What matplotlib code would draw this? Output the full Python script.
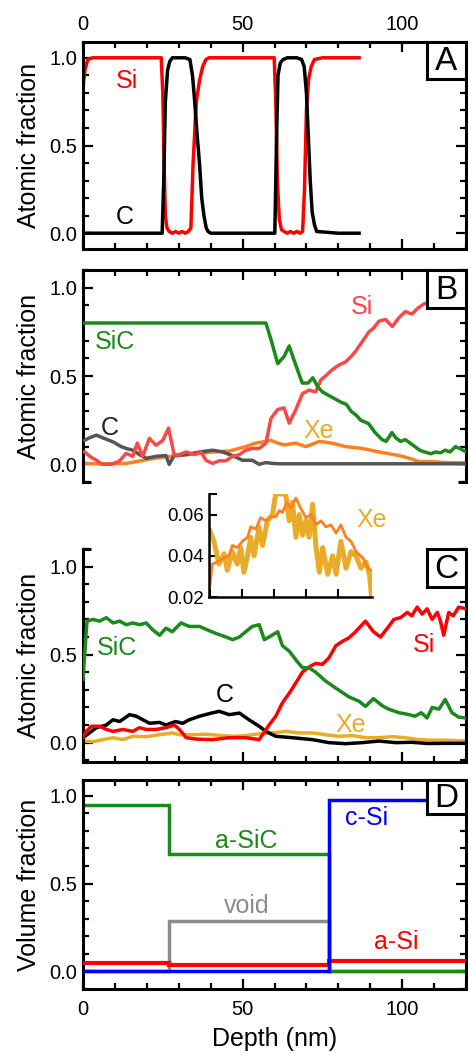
import matplotlib
matplotlib.use("Agg")
import matplotlib.pyplot as plt
from matplotlib.ticker import MultipleLocator, FixedLocator

plt.rcParams['font.family'] = ['Liberation Sans', 'DejaVu Sans']

# ---------------- Panel A ----------------
a_si_x = [0, 0.6, 1.5, 3, 10, 20, 24.5, 25.0, 25.4, 25.8, 26.3, 27, 28, 29, 30, 31, 32, 33, 33.8,
          34.5, 35.5, 36.5, 37.5, 38.5, 39.5, 50, 59.9, 60.4, 60.9, 61.5, 62.2, 63, 64, 65, 66, 67,
          68, 68.8, 69.4, 70, 70.7, 71.5, 72.5, 75, 86.5]
a_si_y = [0.83, 0.93, 0.99, 1.0, 1.0, 1.0, 1.0, 0.8, 0.4, 0.1, 0.03, 0.01, 0.0, 0.01, 0.0, 0.01, 0.0,
          0.01, 0.03, 0.4, 0.75, 0.87, 0.95, 0.99, 1.0, 1.0, 1.0, 0.75, 0.3, 0.08, 0.02, 0.01, 0.0,
          0.01, 0.0, 0.01, 0.0, 0.01, 0.25, 0.7, 0.88, 0.95, 0.99, 1.0, 1.0]
a_c_x = [0, 24.8, 25.3, 25.8, 26.5, 27.2, 28, 29, 32, 33.5, 34.3, 35, 35.8, 36.5, 37.2, 37.9, 38.6,
         39.2, 40, 50, 60.1, 60.6, 61.1, 61.8, 62.7, 64, 67, 68.5, 69.3, 70, 70.6, 71.2, 71.8, 72.5,
         73.2, 80, 86.5]
a_c_y = [0, 0, 0.3, 0.75, 0.93, 0.98, 1.0, 1.0, 1.0, 0.99, 0.9, 0.75, 0.55, 0.4, 0.2, 0.1, 0.03,
         0.01, 0, 0, 0, 0.5, 0.9, 0.97, 0.99, 1.0, 1.0, 0.99, 0.95, 0.8, 0.55, 0.3, 0.12, 0.05, 0.01,
         0, 0]

# ---------------- Panel B ----------------
b_sic_x = [0, 57.3, 59, 61, 63, 64.6, 66.5, 68.7, 70.5, 72, 73.5, 75, 77, 79, 81, 82.5, 84, 85.5,
           87, 89.5, 91.5, 93.7, 95, 96.8, 98, 99.5, 101, 102.5, 104, 105.5, 107, 109, 110.5, 112,
           113.5, 115, 116.7, 118, 120]
b_sic_y = [0.80, 0.80, 0.70, 0.57, 0.61, 0.67, 0.57, 0.46, 0.46, 0.49, 0.44, 0.41, 0.39, 0.37, 0.35,
           0.34, 0.30, 0.28, 0.25, 0.23, 0.18, 0.14, 0.13, 0.18, 0.15, 0.13, 0.14, 0.12, 0.10, 0.08,
           0.07, 0.06, 0.07, 0.065, 0.08, 0.07, 0.10, 0.09, 0.07]
b_si_x = [0.5, 2.5, 4.2, 6, 9, 11.5, 13.5, 15.6, 17, 18.7, 20.8, 22.9, 25, 26.8, 28.6, 30.2, 32.3,
          34.9, 37, 38.5, 40.6, 42.7, 44.8, 46.8, 49, 51, 53, 55.2, 57.3, 58.9, 61, 63, 64.6, 66.7,
          68.75, 70.8, 72.9, 74.5, 76, 78, 80, 82.3, 84, 85.4, 87.5, 89.6, 91, 92.7, 94.8, 96.9, 99,
          101, 103, 105, 107, 110, 113, 116, 120]
b_si_y = [0.07, 0.04, 0.023, 0.0, 0.0, 0.02, 0.062, 0.045, 0.12, 0.045, 0.147, 0.108, 0.136, 0.205,
          0.05, 0.055, 0.07, 0.055, 0.07, 0.023, 0.005, 0.02, 0.02, 0.045, 0.055, 0.08, 0.09, 0.09,
          0.12, 0.26, 0.31, 0.32, 0.233, 0.31, 0.40, 0.42, 0.41, 0.477, 0.50, 0.534, 0.56, 0.58,
          0.61, 0.64, 0.695, 0.75, 0.77, 0.81, 0.82, 0.78, 0.83, 0.865, 0.85, 0.885, 0.91, 0.92,
          0.94, 0.95, 0.96]
b_c_x = [0.5, 2, 4.2, 6.2, 9.4, 12, 13.5, 15.6, 17.7, 19.8, 22.9, 26, 27, 28.6, 32.3, 36.5, 40.6,
         43.7, 46.8, 50, 53, 55.2, 57.3, 59.4, 62, 120]
b_c_y = [0.136, 0.15, 0.165, 0.15, 0.127, 0.10, 0.09, 0.08, 0.055, 0.034, 0.045, 0.05, 0.0, 0.05,
         0.055, 0.07, 0.08, 0.07, 0.05, 0.023, 0.023, 0.0, 0.01, 0.005, 0.003, 0.003]
b_xe_x = [0.5, 6, 13.5, 16.6, 20.8, 25, 30.2, 35.4, 40.6, 45.8, 51, 54, 57.3, 58.9, 61, 63, 66.7,
          69.8, 72, 74, 78, 82.3, 87.5, 92.7, 99, 103, 105, 109, 113.5, 120]
b_xe_y = [0.005, 0.003, 0.005, 0.015, 0.03, 0.04, 0.05, 0.06, 0.07, 0.075, 0.10, 0.12, 0.13, 0.136,
          0.12, 0.11, 0.12, 0.10, 0.115, 0.13, 0.12, 0.10, 0.09, 0.07, 0.05, 0.03, 0.016, 0.016,
          0.01, 0.008]

# ---------------- Panel C ----------------
c_sic_x = [0, 1.25, 3.1, 5.2, 7.3, 9.4, 11.5, 13.5, 15.6, 17.7, 19.8, 21.9, 24, 26, 28, 30.7, 33.3,
           36.5, 39, 41.7, 44.8, 46.9, 49, 51, 53, 55.2, 56.8, 58.3, 61, 62.5, 64.6, 66.7, 68.75,
           70.8, 72.9, 76, 79.2, 83.3, 86.5, 88.5, 91, 93.75, 95.8, 99, 102, 104, 106, 107.8, 109.4,
           111.5, 113.5, 115.6, 117.7, 120]
c_sic_y = [0.36, 0.69, 0.70, 0.69, 0.71, 0.68, 0.69, 0.67, 0.68, 0.67, 0.68, 0.64, 0.61, 0.65, 0.63,
           0.68, 0.66, 0.66, 0.64, 0.62, 0.60, 0.585, 0.60, 0.63, 0.66, 0.67, 0.585, 0.60, 0.63,
           0.55, 0.52, 0.47, 0.425, 0.425, 0.40, 0.35, 0.31, 0.26, 0.235, 0.206, 0.25, 0.21, 0.19,
           0.17, 0.16, 0.15, 0.17, 0.14, 0.20, 0.19, 0.245, 0.17, 0.145, 0.14]
c_si_x = [0, 1, 2.6, 5.2, 7.3, 9.4, 12.5, 15.6, 17.7, 19.8, 22.9, 26, 28.6, 30.2, 32.3, 35.4, 40.6,
          45.8, 51, 55.2, 56.8, 58.3, 60.4, 62.5, 64.6, 66.7, 68.75, 70.8, 72.9, 75, 77, 79.2, 81.25,
          83.3, 85.4, 88.5, 91, 93.2, 95.8, 97.4, 99.5, 101.6, 103, 104.7, 106.25, 107.8, 109.4, 111,
          112, 113, 114.6, 116, 117.7, 120]
c_si_y = [0.03, 0.064, 0.093, 0.093, 0.075, 0.064, 0.075, 0.064, 0.085, 0.075, 0.075, 0.085, 0.10,
          0.075, 0.028, 0.02, 0.017, 0.028, 0.028, 0.017, 0.06, 0.10, 0.15, 0.227, 0.28, 0.34, 0.40,
          0.43, 0.45, 0.445, 0.48, 0.55, 0.575, 0.595, 0.63, 0.69, 0.63, 0.60, 0.66, 0.70, 0.71,
          0.74, 0.72, 0.77, 0.73, 0.76, 0.70, 0.74, 0.69, 0.61, 0.74, 0.72, 0.77, 0.76]
c_c_x = [0, 2, 4.2, 7.3, 9.4, 11.5, 14.6, 16.7, 18.75, 20.8, 24, 26, 29, 31.25, 33.3, 36.5, 39.6,
         42.7, 45.8, 49, 52, 55.2, 57.3, 60.4, 65.6, 71.9, 77, 82.3, 87.5, 92.7, 98, 103, 108, 113.5,
         120]
c_c_y = [0.028, 0.055, 0.085, 0.10, 0.13, 0.12, 0.159, 0.15, 0.13, 0.11, 0.115, 0.10, 0.12, 0.11,
         0.13, 0.15, 0.165, 0.178, 0.159, 0.168, 0.13, 0.093, 0.064, 0.036, 0.028, 0.017, 0.0,
         -0.006, 0.0, 0.009, 0.0, 0.002, -0.005, -0.004, -0.004]
c_xe_x = [0, 3.1, 6.25, 9.4, 12.5, 15.6, 19.8, 24, 28, 30.2, 34.4, 38.5, 42.7, 46.9, 51, 55.2, 59.4,
          63.5, 67.7, 71.9, 76, 80.2, 84.4, 88.5, 92.7, 96.9, 101, 105, 109.4, 113.5, 118.75, 120]
c_xe_y = [0.01, 0.005, 0.017, 0.028, 0.017, 0.036, 0.034, 0.045, 0.055, 0.045, 0.045, 0.048, 0.041,
          0.036, 0.040, 0.05, 0.055, 0.064, 0.055, 0.055, 0.045, 0.036, 0.040, 0.028, 0.028, 0.034,
          0.028, 0.017, 0.014, 0.014, 0.01, 0.01]

# inset (Xe)
ins_gold_x = [0, 1.25, 2.8, 4.4, 5.4, 7.0, 8.5, 9.6, 10.6, 11.7, 12.7, 13.75, 15.3, 16.4, 17.9, 19.5,
              20.5, 22.1, 23.6, 24.7, 25.7, 26.8, 27.8, 28.85, 29.9, 30.9, 32.0, 33.0, 34.1, 35.1,
              36.7, 38.2, 39.3, 40.8, 42.4, 43.96, 45.5, 47.1, 48.6, 49.7, 50.4]
ins_gold_y = [0.052, 0.047, 0.036, 0.041, 0.033, 0.042, 0.036, 0.044, 0.032, 0.040, 0.049, 0.040,
              0.054, 0.045, 0.057, 0.060, 0.070, 0.070, 0.070, 0.057, 0.066, 0.049, 0.060, 0.050,
              0.057, 0.049, 0.065, 0.045, 0.032, 0.044, 0.031, 0.040, 0.031, 0.047, 0.034, 0.042,
              0.040, 0.034, 0.037, 0.031, 0.020]
ins_orange_x = [0, 0.73, 2.3, 4.4, 5.9, 7.0, 8.5, 10.1, 11.7, 12.7, 14.3, 15.8, 17.4, 18.96, 20.5,
                21.6, 22.6, 23.96, 25.2, 26.8, 28.3, 29.9, 31.5, 33.0, 34.6, 36.1, 37.7, 39.3, 40.8,
                42.4, 43.96, 45.5, 47.6, 49.2, 50.2]
ins_orange_y = [0.026, 0.036, 0.037, 0.039, 0.040, 0.045, 0.044, 0.047, 0.049, 0.054, 0.053, 0.0585,
                0.057, 0.059, 0.059, 0.062, 0.061, 0.066, 0.063, 0.068, 0.063, 0.0585, 0.060, 0.055,
                0.057, 0.054, 0.055, 0.051, 0.055, 0.049, 0.047, 0.042, 0.039, 0.034, 0.033]

# ---------------- Panel D (step profiles) ----------------
d_edges = [0, 27, 77, 120]
d_asic = [0.95, 0.67, 0.0]
d_void = [0.0, 0.29, 0.0]
d_asi = [0.047, 0.038, 0.062]
d_csi = [0.0, 0.0, 0.975]

RED = '#ff0000'
RED_B = '#f84848'
GREEN = '#1a8a1a'
BLUE = '#0000ff'
GRAY = '#8c8c8c'
DGRAY = '#555555'
ORANGE = '#ff8020'
GOLD = '#e8ac28'

W, H = 468, 1055
fig = plt.figure(figsize=(W / 100, H / 100), dpi=100)


def rect(l, t, r, b):
    return [l / W, 1 - b / H, (r - l) / W, (b - t) / H]


SPW = 2.2
LW = 2.5
TICK_FS = 14.5
LAB_FS = 18


def style(ax, ylim, top_labels=False, bottom_labels=False):
    ax.set_xlim(0, 120)
    ax.set_ylim(*ylim)
    for s in ax.spines.values():
        s.set_linewidth(SPW)
    ax.xaxis.set_major_locator(FixedLocator([0, 50, 100]))
    ax.xaxis.set_minor_locator(MultipleLocator(10))
    ax.yaxis.set_major_locator(FixedLocator([0.0, 0.5, 1.0]))
    ax.yaxis.set_minor_locator(MultipleLocator(0.1))
    ax.tick_params(which='both', direction='in', top=True, right=True, bottom=True, left=True,
                   labelsize=TICK_FS, width=1.6, pad=4)
    ax.tick_params(axis='x', which='both', pad=8)
    ax.tick_params(which='major', length=7)
    ax.tick_params(which='minor', length=4.5)
    ax.tick_params(axis='x', labeltop=top_labels, labelbottom=bottom_labels)
    ax.set_yticklabels(['0.0', '0.5', '1.0'])


def panel_box(letter, t, b):
    bx = fig.add_axes(rect(427, t, 466, b))
    bx.set_xticks([]); bx.set_yticks([])
    for s in bx.spines.values():
        s.set_linewidth(SPW)
    bx.set_facecolor('white')
    bx.text(0.5, 0.47, letter, ha='center', va='center', fontsize=24, transform=bx.transAxes)
    return bx


# Panel A
axA = fig.add_axes(rect(83, 42, 466, 249))
style(axA, (-0.09, 1.09), top_labels=True)
axA.tick_params(axis='x', which='both', pad=6)
axA.set_xticklabels(['0', '50', '100'])
axA.plot(a_si_x, a_si_y, color=RED, lw=LW)
axA.plot(a_c_x, a_c_y, color='black', lw=LW)
axA.text(13.7, 0.87, 'Si', color=RED, fontsize=LAB_FS, ha='center', va='center')
axA.text(13, 0.09, 'C', color='black', fontsize=LAB_FS, ha='center', va='center')
axA.set_ylabel('Atomic fraction', fontsize=LAB_FS, labelpad=6)
panel_box('A', 42, 79)

# Panel B
axB = fig.add_axes(rect(83, 270, 466, 482))
style(axB, (-0.10, 1.10))
axB.spines['bottom'].set_visible(False)
axB.tick_params(axis='x', which='both', bottom=False)
axB.plot(b_xe_x, b_xe_y, color=ORANGE, lw=LW, zorder=2)
axB.plot(b_c_x, b_c_y, color=DGRAY, lw=LW, zorder=3)
axB.plot(b_si_x, b_si_y, color=RED_B, lw=LW, zorder=3)
axB.plot(b_sic_x, b_sic_y, color=GREEN, lw=LW, zorder=4)
axB.text(9.9, 0.69, 'SiC', color=GREEN, fontsize=LAB_FS, ha='center', va='center')
axB.text(87.4, 0.89, 'Si', color=RED_B, fontsize=LAB_FS, ha='center', va='center')
axB.text(8.3, 0.205, 'C', color='#222222', fontsize=LAB_FS, ha='center', va='center')
axB.text(74, 0.19, 'Xe', color=GOLD, fontsize=LAB_FS, ha='center', va='center')
axB.set_ylabel('Atomic fraction', fontsize=LAB_FS, labelpad=6)
for xs in ([0, 0.022], [0.978, 1.0]):
    axB.plot(xs, [0, 0], transform=axB.transAxes, color='black', lw=SPW, clip_on=False,
             solid_capstyle='butt', zorder=5)
panel_box('B', 270, 308)

# Panel C
axC = fig.add_axes(rect(83, 549, 466, 762))
style(axC, (-0.11, 1.10))
axC.spines['top'].set_visible(False)
axC.tick_params(axis='x', which='both', top=False)
axC.plot(c_xe_x, c_xe_y, color=GOLD, lw=LW, zorder=2)
axC.plot(c_c_x, c_c_y, color='black', lw=LW, zorder=3)
axC.plot(c_si_x, c_si_y, color=RED, lw=LW, zorder=3)
axC.plot(c_sic_x, c_sic_y, color=GREEN, lw=LW, zorder=4)
axC.text(10.5, 0.54, 'SiC', color=GREEN, fontsize=LAB_FS, ha='center', va='center')
axC.text(44.3, 0.27, 'C', color='black', fontsize=LAB_FS, ha='center', va='center')
axC.text(106.7, 0.557, 'Si', color=RED, fontsize=LAB_FS, ha='center', va='center')
axC.text(84, 0.10, 'Xe', color=GOLD, fontsize=LAB_FS, ha='center', va='center')
axC.set_ylabel('Atomic fraction', fontsize=LAB_FS, labelpad=6)
axC.plot([0, 0.022], [1, 1], transform=axC.transAxes, color='black', lw=SPW, clip_on=False,
         solid_capstyle='butt', zorder=5)
panel_box('C', 549, 587)

# Inset
axI = fig.add_axes(rect(209, 494, 372, 597))
axI.set_xlim(-0.3, 50.5)
axI.set_ylim(0.02, 0.07)
axI.spines['top'].set_visible(False)
axI.spines['right'].set_visible(False)
for s in ('left', 'bottom'):
    axI.spines[s].set_linewidth(1.8)
axI.xaxis.set_major_locator(FixedLocator([0, 10, 20, 30, 40, 50]))
axI.yaxis.set_major_locator(FixedLocator([0.02, 0.04, 0.06, 0.07]))
axI.set_yticklabels(['0.02', '0.04', '0.06', ''])
axI.tick_params(direction='in', labelsize=13.5, width=1.5, length=6, labelbottom=False)
axI.plot(ins_gold_x, ins_gold_y, color=GOLD, lw=3.6)
axI.plot(ins_orange_x, ins_orange_y, color=ORANGE, lw=2.0)
axI.text(50.3, 0.0576, 'Xe', color=GOLD, fontsize=LAB_FS, ha='center', va='center', clip_on=False)

# Panel D
axD = fig.add_axes(rect(83, 780, 466, 989))
style(axD, (-0.10, 1.09), bottom_labels=True)
axD.set_xticklabels(['0', '50', '100'])
axD.stairs(d_void, d_edges, color=GRAY, lw=LW, baseline=None, zorder=1.5)
axD.stairs(d_asic, d_edges, color=GREEN, lw=LW, baseline=None, zorder=2)
axD.stairs(d_asi, d_edges, color=RED, lw=3.0, baseline=None, zorder=3)
axD.stairs(d_csi, d_edges, color=BLUE, lw=LW, baseline=None, zorder=4)
axD.text(51.2, 0.74, 'a-SiC', color=GREEN, fontsize=LAB_FS, ha='center', va='center')
axD.text(51.2, 0.375, 'void', color=GRAY, fontsize=LAB_FS, ha='center', va='center')
axD.text(98.3, 0.165, 'a-Si', color=RED, fontsize=LAB_FS, ha='center', va='center')
axD.text(89, 0.875, 'c-Si', color=BLUE, fontsize=LAB_FS, ha='center', va='center')
axD.set_ylabel('Volume fraction', fontsize=LAB_FS, labelpad=6)
axD.set_xlabel('Depth (nm)', fontsize=LAB_FS, labelpad=6)
panel_box('D', 780, 814)

fig.savefig('out.png', dpi=100)
